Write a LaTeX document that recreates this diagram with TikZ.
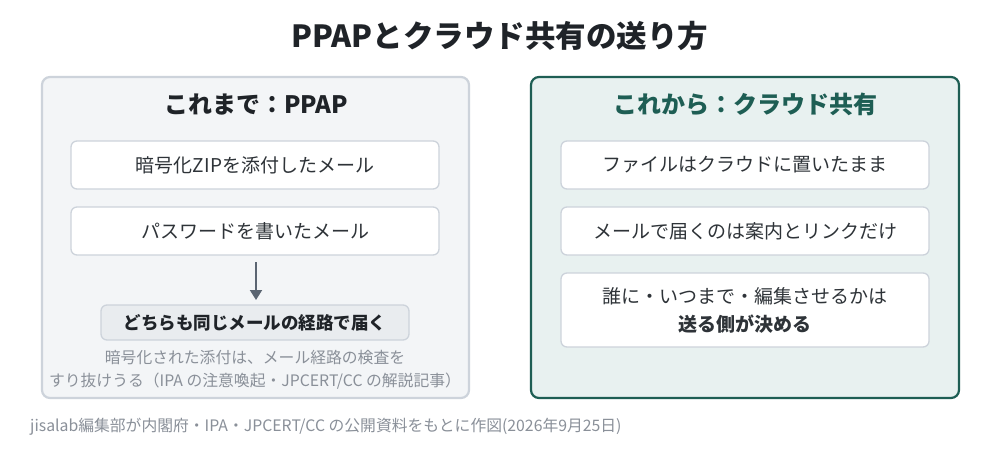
\documentclass[tikz,border=0pt]{standalone}
\usepackage{fontspec}
\setmainfont{Noto Sans CJK JP}
\newfontfamily\jp{Noto Sans CJK JP}
\usetikzlibrary{arrows.meta}
\definecolor{ink}{HTML}{1F2328}
\definecolor{boxtxt}{HTML}{2E3338}
\definecolor{muted}{HTML}{8A9099}
\definecolor{lfill}{HTML}{F3F5F7}
\definecolor{lline}{HTML}{CDD3DB}
\definecolor{rfill}{HTML}{E8F1F0}
\definecolor{rline}{HTML}{1E5E54}
\definecolor{gfill}{HTML}{E9ECEF}
\definecolor{arrowc}{HTML}{5B6572}
\tikzset{
  panel/.style={rounded corners=8pt, line width=2.2pt},
  itembox/.style={draw=lline, fill=white, rounded corners=6pt, line width=1.3pt},
  itemtxt/.style={text=boxtxt, font=\jp\fontsize{19}{28}\selectfont, align=center, inner sep=0pt},
}
\begin{document}
\begin{tikzpicture}[x=1pt,y=-1pt]
\useasboundingbox (0,0) rectangle (1000,450);
\fill[white] (0,0) rectangle (1000,450);
% title
\node[text=ink, font=\jp\bfseries\fontsize{30.5}{34}\selectfont, inner sep=0pt] (title) at (500,36) {PPAPとクラウド共有の送り方};
% left panel
\draw[panel, draw=lline, fill=lfill] (42,77) rectangle (469,398);
\node[text=ink, font=\jp\bfseries\fontsize{24}{28}\selectfont, inner sep=0pt] (lhead) at (256,104) {これまで：PPAP};
\draw[itembox] (71,141) rectangle (439,189);
\node[itemtxt] (l1) at (255,165) {暗号化ZIPを添付したメール};
\draw[itembox] (71,207) rectangle (439,255);
\node[itemtxt] (l2) at (255,231) {パスワードを書いたメール};
\coordinate (l2b) at (256,262);
\draw[draw=lline, fill=gfill, rounded corners=6pt, line width=1.3pt] (101,305) rectangle (409,340);
\node[text=ink, font=\jp\bfseries\fontsize{17.5}{20}\selectfont, inner sep=0pt] (l3) at (255,322.5) {どちらも同じメールの経路で届く};
\coordinate (l3t) at (256,300);
\draw[arrowc, line width=2pt, -{Triangle[length=10pt,width=12pt]}] (l2b) -- (l3t);
\node[text=muted, font=\jp\fontsize{15.8}{23}\selectfont, align=center, inner sep=0pt] (note) at (255,369.5) {暗号化された添付は、メール経路の検査を\\すり抜けうる（IPA の注意喚起・JPCERT/CC の解説記事）};
% right panel
\draw[panel, draw=rline, fill=rfill] (531,77) rectangle (959,398);
\node[text=rline, font=\jp\bfseries\fontsize{24}{28}\selectfont, inner sep=0pt] (rhead) at (745,104) {これから：クラウド共有};
\draw[itembox] (561,141) rectangle (929,189);
\node[itemtxt] (r1) at (745,165) {ファイルはクラウドに置いたまま};
\draw[itembox] (561,207) rectangle (929,255);
\node[itemtxt] (r2) at (745,231) {メールで届くのは案内とリンクだけ};
\draw[itembox] (561,273) rectangle (929,347);
\node[itemtxt] (r3) at (745,310) {誰に・いつまで・編集させるかは\\\textbf{送る側が決める}};
% footer
\node[text=muted, font=\jp\fontsize{15.8}{18}\selectfont, anchor=west, inner sep=0pt] (foot) at (30,427) {jisalab編集部が内閣府・IPA・JPCERT/CC の公開資料をもとに作図(2026年9月25日)};
\end{tikzpicture}
\end{document}
